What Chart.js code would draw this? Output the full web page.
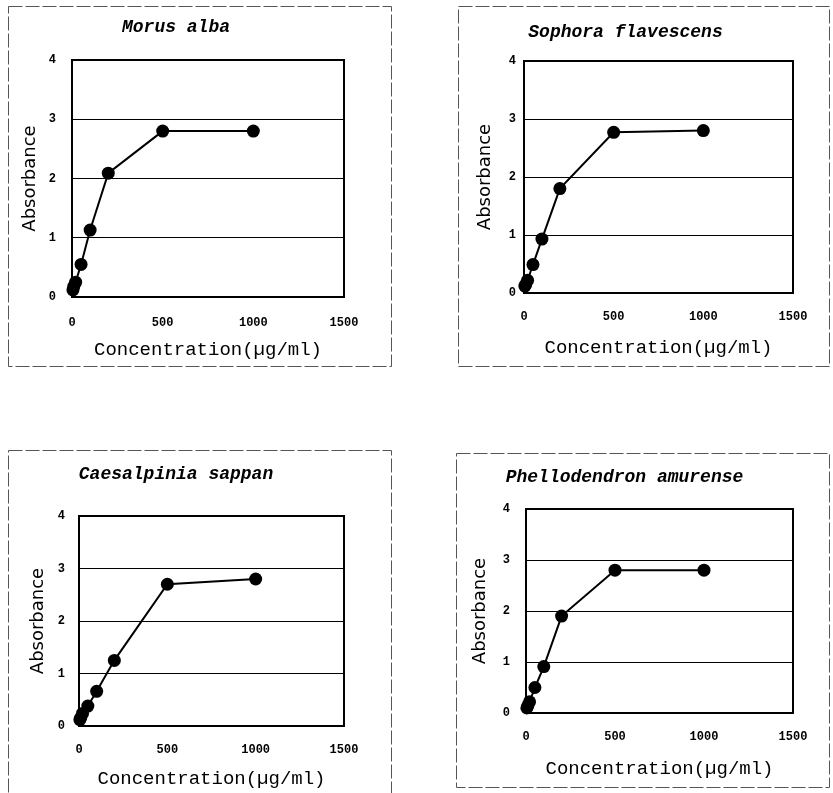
<!DOCTYPE html>
<html>
<head>
<meta charset="utf-8">
<script src="https://cdn.jsdelivr.net/npm/chart.js@4/dist/chart.umd.min.js"></script>
<style>
  html, body { margin: 0; padding: 0; background: #fff; }
  body { width: 833px; height: 793px; position: relative; overflow: hidden; }
  .panel { position: absolute; }
</style>
</head>
<body>
<div class="panel" id="p1" style="left:8px;top:6px;width:384px;height:361px"><canvas id="c1"></canvas></div>
<div class="panel" id="p2" style="left:458px;top:6px;width:372px;height:361px"><canvas id="c2"></canvas></div>
<div class="panel" id="p3" style="left:8px;top:450px;width:384px;height:350px"><canvas id="c3"></canvas></div>
<div class="panel" id="p4" style="left:456px;top:453px;width:374px;height:335px"><canvas id="c4"></canvas></div>
<script>
// concentrations (ug/ml), same for every extract
const concentration = [5, 10, 20, 50, 100, 200, 500, 1000];

// absorbance
const morusAlba = [0.12, 0.18, 0.25, 0.55, 1.13, 2.09, 2.8, 2.8];
const sophoraFlavescens = [0.12, 0.15, 0.22, 0.49, 0.93, 1.8, 2.77, 2.8];
const caesalpiniaSappan = [0.12, 0.16, 0.24, 0.38, 0.66, 1.25, 2.7, 2.8];
const phellodendronAmurense = [0.1, 0.14, 0.22, 0.5, 0.91, 1.9, 2.8, 2.8];

const xTicks = [0, 500, 1000, 1500];
const yTicks = [0, 1, 2, 3, 4];

const xTitle = 'Concentration(\u00b5g/ml)';
const yTitle = 'Absorbance';

Chart.defaults.color = '#000';
Chart.defaults.animation = false;

// dashed outer frame + solid plot box
const framePlugin = {
    id: 'frame',
    beforeDraw(chart) {
        const ctx = chart.ctx;
        ctx.save();
        ctx.strokeStyle = '#555';
        ctx.lineWidth = 1;
        ctx.setLineDash([14, 3]);
        ctx.strokeRect(0.5, 0.5, chart.width - 1, chart.height - 1);
        ctx.restore();
    },
    afterDatasetsDraw(chart) {
        const a = chart.chartArea;
        const ctx = chart.ctx;
        ctx.save();
        ctx.strokeStyle = '#000';
        ctx.lineWidth = 2;
        ctx.strokeRect(a.left, a.top, a.right - a.left, a.bottom - a.top);
        ctx.restore();
    }
};

function makePanel(id, title, values, box) {
    const w = box.w, h = box.h;
    return new Chart(document.getElementById(id), {
        type: 'line',
        data: {
            datasets: [{
                data: concentration.map((c, i) => ({ x: c, y: values[i] })),
                borderColor: '#000',
                borderWidth: 2,
                backgroundColor: '#000',
                pointBackgroundColor: '#000',
                pointBorderWidth: 0,
                pointRadius: 6.5,
                clip: false
            }]
        },
        options: {
            responsive: true,
            maintainAspectRatio: false,
            layout: { padding: { top: 0, left: 0, bottom: 0, right: w - box.R } },
            plugins: {
                legend: { display: false },
                tooltip: { enabled: false },
                title: {
                    display: true,
                    text: title,
                    font: { family: 'Liberation Mono', size: 18, weight: 'bold', style: 'italic', lineHeight: 1.2 },
                    padding: { top: box.titleY - 10.8, bottom: box.T - box.titleY - 10.8 }
                }
            },
            scales: {
                x: {
                    type: 'linear',
                    min: 0, max: 1500,
                    afterBuildTicks: s => { s.ticks = xTicks.map(v => ({ value: v })); },
                    afterFit: s => { s.height = h - box.B; },
                    grid: { display: false, drawTicks: false },
                    border: { display: false },
                    ticks: {
                        padding: box.xTickGap - 7.2,
                        callback: v => String(v),
                        font: { family: 'Liberation Mono', size: 12, weight: 'bold' }
                    },
                    title: {
                        display: true, text: xTitle,
                        font: { family: 'Liberation Mono', size: 19, lineHeight: 1.2 },
                        padding: { top: 0, bottom: box.xTitleOff - 11.4 }
                    }
                },
                y: {
                    min: 0, max: 4,
                    afterBuildTicks: s => { s.ticks = yTicks.map(v => ({ value: v })); },
                    afterFit: s => { s.width = box.L; },
                    grid: {
                        drawTicks: false,
                        lineWidth: 1,
                        color: c => (c.tick && c.tick.value > 0 && c.tick.value < 4) ? '#000' : 'rgba(0,0,0,0)'
                    },
                    border: { display: false },
                    ticks: {
                        padding: box.yTickGap,
                        callback: v => String(v),
                        font: { family: 'Liberation Mono', size: 12, weight: 'bold' }
                    },
                    title: {
                        display: true, text: yTitle,
                        font: { family: 'DejaVu Sans', size: 18, lineHeight: 1.2 },
                        padding: { top: box.yTitleX - 10.8, bottom: 0 }
                    }
                }
            }
        },
        plugins: [framePlugin]
    });
}

makePanel('c1', 'Morus alba', morusAlba,
    { w: 384, h: 361, L: 64, R: 336, T: 54, B: 291, titleY: 21, yTitleX: 22, xTickGap: 26, xTitleOff: 17, yTickGap: 16 });
makePanel('c2', 'Sophora flavescens', sophoraFlavescens,
    { w: 372, h: 361, L: 66, R: 335, T: 55, B: 287, titleY: 26, yTitleX: 27, xTickGap: 24, xTitleOff: 19, yTickGap: 8 });
makePanel('c3', 'Caesalpinia sappan', caesalpiniaSappan,
    { w: 384, h: 350, L: 71, R: 336, T: 66, B: 276, titleY: 24, yTitleX: 30, xTickGap: 24, xTitleOff: 21, yTickGap: 14 });
makePanel('c4', 'Phellodendron amurense', phellodendronAmurense,
    { w: 374, h: 335, L: 70, R: 337, T: 56, B: 260, titleY: 24, yTitleX: 24, xTickGap: 24, xTitleOff: 19, yTickGap: 16 });
</script>
</body>
</html>
